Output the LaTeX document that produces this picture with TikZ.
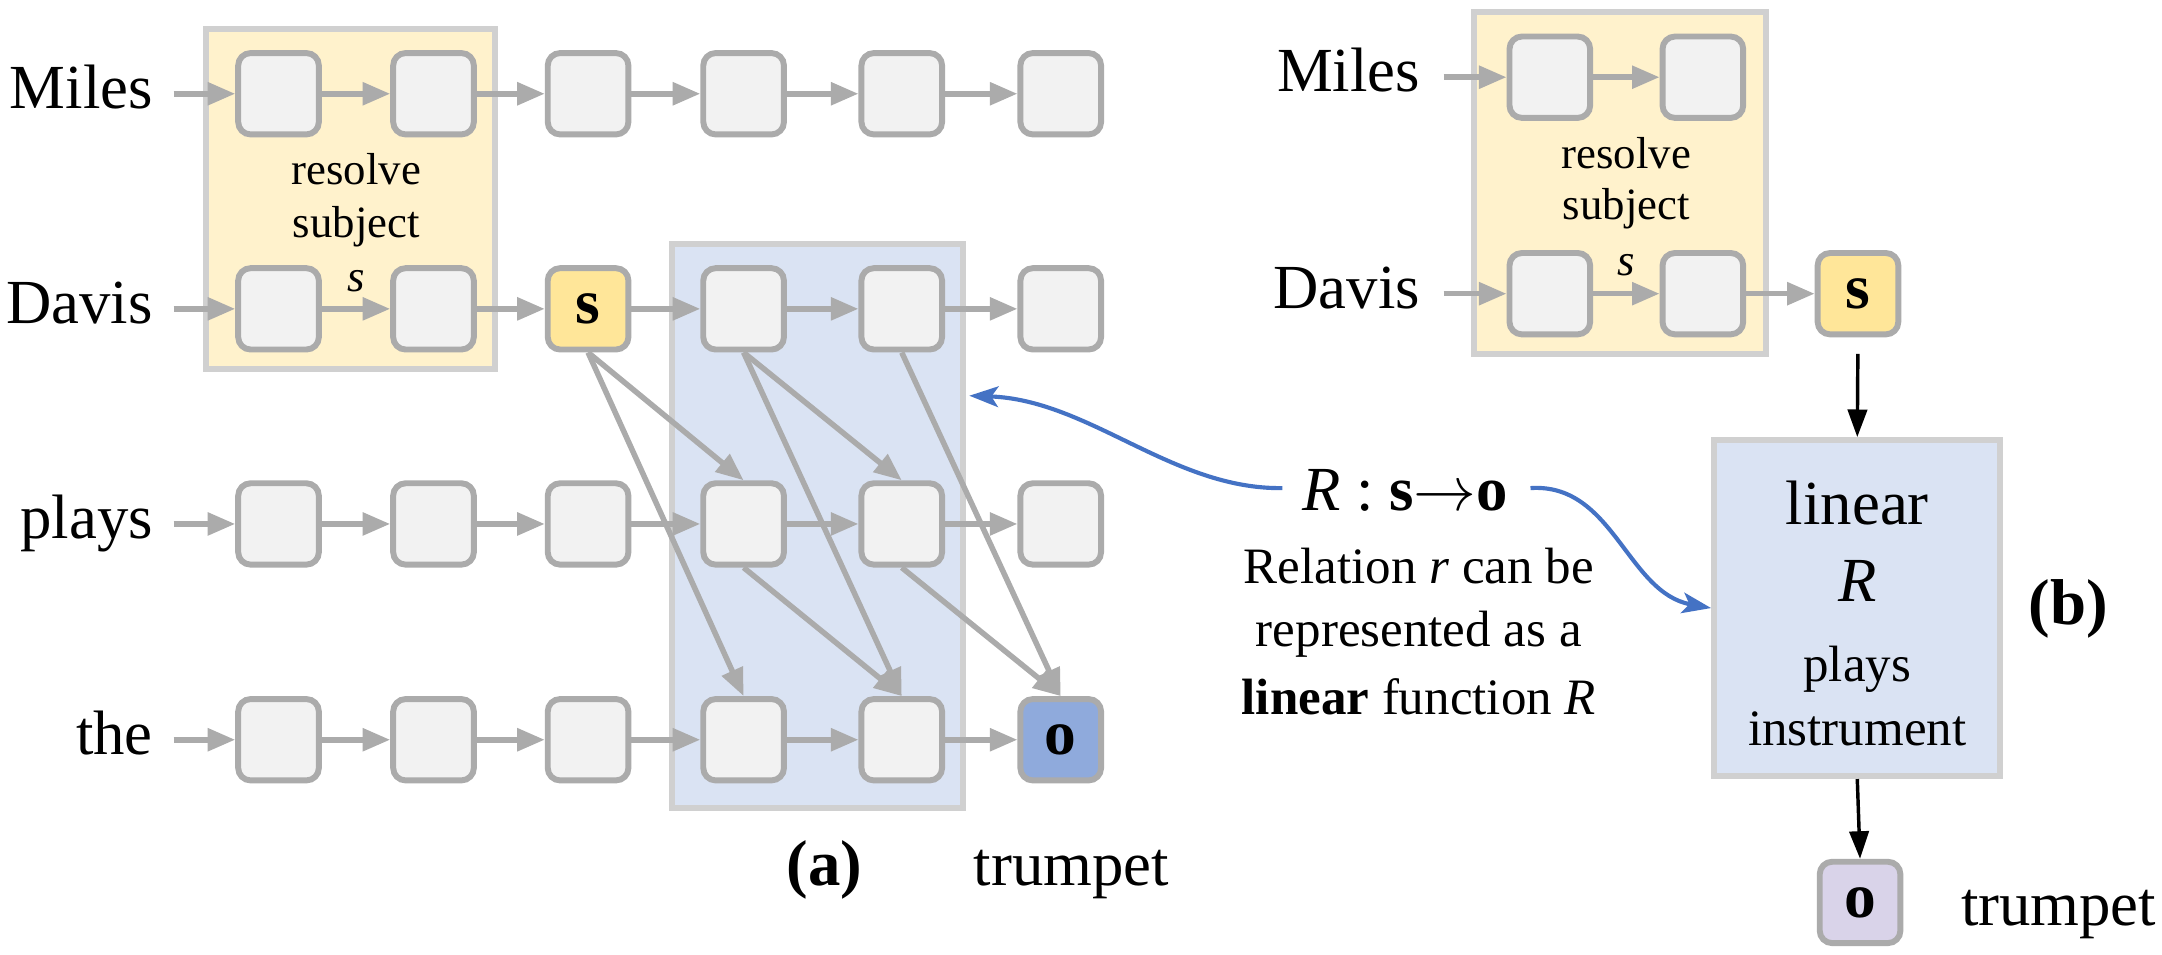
\RequirePackage{fix-cm}
\documentclass[tikz,border=0pt]{standalone}
\usepackage{fontspec}
\setmainfont{Liberation Serif}
\usetikzlibrary{arrows.meta}
\definecolor{boxfill}{HTML}{F2F2F2}
\definecolor{boxline}{HTML}{ABABAB}
\definecolor{arrgray}{HTML}{ABABAB}
\definecolor{yelfill}{HTML}{FFF2CC}
\definecolor{bluefill}{HTML}{DAE3F3}
\definecolor{frameline}{HTML}{D0D0D0}
\definecolor{sfill}{HTML}{FFE699}
\definecolor{ofillA}{HTML}{8FAADC}
\definecolor{ofillB}{HTML}{D9D3E9}
\definecolor{curveblue}{HTML}{4472C4}
\newcommand{\fbig}{\fontsize{45.5}{54}\selectfont}
\newcommand{\fmed}{\fontsize{37}{47}\selectfont}
\newcommand{\fsmall}{\fontsize{32.5}{38.7}\selectfont}
\newcommand{\fboxlab}{\fontsize{46}{54}\selectfont\bfseries}
\newcommand{\fpanel}{\fontsize{47}{56}\selectfont\bfseries}
\tikzset{
  cell/.style={draw=boxline, fill=boxfill, line width=4.3pt, rounded corners=9pt,
    minimum width=58.5pt, minimum height=59pt, inner sep=0pt},
  frameY/.style={draw=frameline, fill=yelfill, line width=4.5pt, inner sep=0pt},
  frameB/.style={draw=frameline, fill=bluefill, line width=4.5pt, inner sep=0pt},
  garrow/.style={draw=arrgray, line width=4pt, -{Triangle[length=20pt,width=16pt]}},
  karrow/.style={draw=black, line width=2.5pt, -{Triangle[length=20pt,width=14pt]}},
  barrow/.style={draw=curveblue, line width=3pt, -{Stealth[length=21pt,width=15pt,inset=5pt]}},
  word/.style={anchor=base east, inner sep=0pt, font=\fbig},
  txt/.style={anchor=base, inner sep=0pt}
}
\begin{document}
\begin{tikzpicture}[x=1pt,y=-1pt]
\useasboundingbox (0,0) rectangle (1568,692);
% ---------- panel (a) ----------
\node[frameY, minimum width=209.5pt, minimum height=246.5pt] (resA) at (254,144.5) {};
\node[frameB, minimum width=211pt, minimum height=408.5pt] (relA) at (592.75,381.5) {};
\foreach \c/\x in {1/202,2/314.4,3/426.5,4/539.3,5/654,6/769.3}{
  \foreach \r/\y in {1/68,2/224,3/380,4/536.5}{
    \pgfmathtruncatemacro\k{10*\r+\c}
    \ifnum\k=23 \else\ifnum\k=46 \else
      \node[cell] (a\r\c) at (\x,\y) {};
    \fi\fi
  }
}
\node[cell, fill=sfill, font=\fboxlab] (a23) at (426.5,224) {s};
\node[cell, fill=ofillA, font=\fboxlab] (a46) at (769.3,536.5) {o};
\foreach \r/\y/\w in {1/68/Miles,2/224/Davis,3/380/plays,4/536.5/the}{
  \node[word] (wa\r) at (111,\y+10.5) {\w};
  \coordinate (ia\r) at (126,\y);
  \draw[garrow] (ia\r) -- (a\r1.west);
  \foreach \c in {1,...,5}{
    \pgfmathtruncatemacro\n{\c+1}
    \draw[garrow] (a\r\c.east) -- (a\r\n.west);
  }
}
\node[txt, font=\fsmall] (resA1) at (258.5,133.5) {resolve};
\node[txt, font=\fsmall] (resA2) at (258.5,172) {subject};
\node[inner sep=0pt, font=\fsmall\itshape] (sA) at (258.5,204) {s};
\draw[garrow] (a23.south) -- (a34.north);
\draw[garrow] (a23.south) -- (a44.north);
\draw[garrow] (a24.south) -- (a35.north);
\draw[garrow] (a24.south) -- (a45.north);
\draw[garrow] (a25.south) -- (a46.north);
\draw[garrow] (a34.south) -- (a45.north);
\draw[garrow] (a35.south) -- (a46.north);
\node[txt, font=\fpanel] (pa) at (598,642) {(a)};
\node[txt, font=\fbig] (trA) at (777,642) {trumpet};
% ---------- middle text ----------
\node[txt, font=\fbig] (rel) at (1019,370) {\textit{R} : \textbf{s}$\rightarrow$\textbf{o}};
\node[txt, font=\fmed] (l1) at (1029,423) {Relation \textit{r} can be};
\node[txt, font=\fmed] (l2) at (1029,469) {represented as a};
\node[txt, font=\fmed] (l3) at (1029,518) {\textbf{linear} function \textit{R}};
% ---------- panel (b) ----------
\node[frameY, minimum width=211.5pt, minimum height=247.8pt] (resB) at (1175,132.85) {};
\node[frameB, minimum width=207.5pt, minimum height=243.5pt] (linB) at (1347,441) {};
\node[cell] (b11) at (1124,56) {};
\node[cell] (b12) at (1235,56) {};
\node[cell] (b21) at (1124,213) {};
\node[cell] (b22) at (1235,213) {};
\node[cell, fill=sfill, font=\fboxlab] (sB) at (1347.5,213) {s};
\node[cell, fill=ofillB, font=\fboxlab] (oB) at (1349,654.5) {o};
\node[word] (wb1) at (1030,66.5) {Miles};
\node[word] (wb2) at (1030,223.5) {Davis};
\coordinate (ib1) at (1047,56);
\coordinate (ib2) at (1047,213);
\draw[garrow] (ib1) -- (b11.west);
\draw[garrow] (b11.east) -- (b12.west);
\draw[garrow] (ib2) -- (b21.west);
\draw[garrow] (b21.east) -- (b22.west);
\draw[garrow] (b22.east) -- (sB.west);
\node[txt, font=\fsmall] (resB1) at (1179.5,122) {resolve};
\node[txt, font=\fsmall] (resB2) at (1179.5,159.5) {subject};
\node[inner sep=0pt, font=\fsmall\itshape] (sBl) at (1179.5,192) {s};
\draw[karrow, shorten <=12pt] (sB.south) -- (linB.north);
\draw[karrow] (linB.south) -- (oB.north);
\node[txt, font=\fbig] (lin1) at (1347,380.5) {linear};
\node[txt, font=\fbig] (lin2) at (1347,436) {\textit{R}};
\node[txt, font=\fmed] (lin3) at (1347,494) {plays};
\node[txt, font=\fmed] (lin4) at (1347,540.7) {instrument};
\node[txt, font=\fpanel] (pb) at (1500,453) {(b)};
\node[txt, font=\fbig] (trB) at (1493,671) {trumpet};
% ---------- blue connectors ----------
\coordinate (c1s) at (930,354);
\coordinate (c1e) at (703,287);
\coordinate (c2s) at (1110,354);
\draw[barrow] (c1s) .. controls (850,355) and (790,290) .. (c1e);
\draw[barrow] (c2s) .. controls (1170,350) and (1180,430) .. (linB.west);
\end{tikzpicture}
\end{document}
